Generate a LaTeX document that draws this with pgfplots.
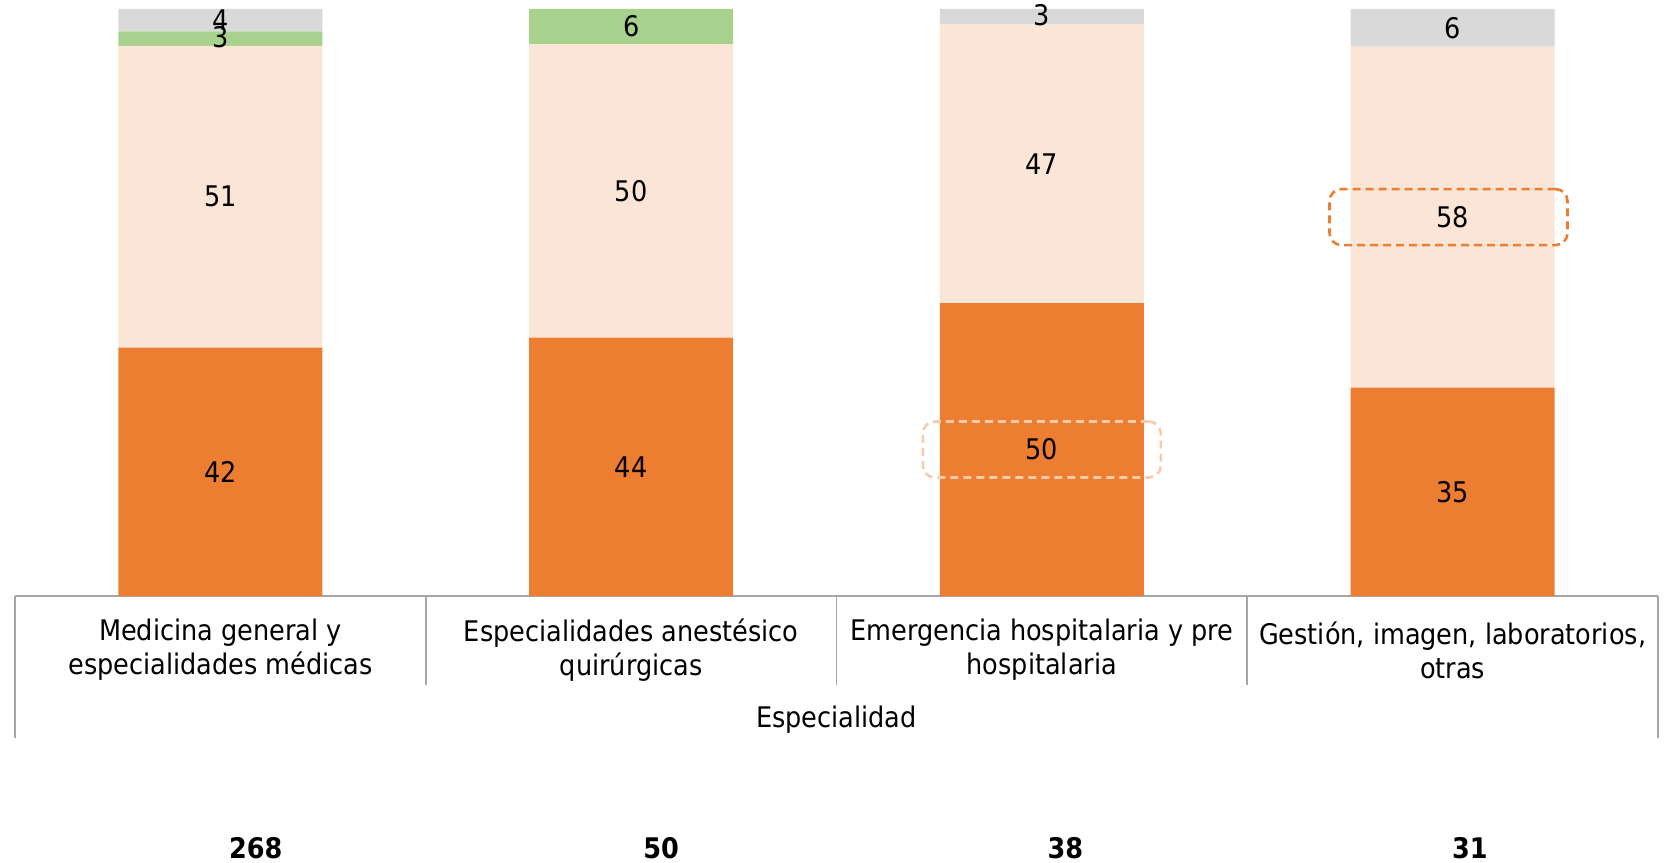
\documentclass[border=0pt]{standalone}
\usepackage{pgfplots}
\pgfplotsset{compat=1.18}
\usepackage{pgfplotstable}
\usepackage{fontspec}
\setmainfont{DejaVu Sans Condensed}
\definecolor{corange}{HTML}{ED7D31}
\definecolor{cpeach}{HTML}{FBE5D6}
\definecolor{cgreen}{HTML}{A9D18E}
\definecolor{cgray}{HTML}{D9D9D9}
\definecolor{cdash}{HTML}{F8CBAD}
\definecolor{cline}{HTML}{A6A6A6}
% segment heights (percent)
\pgfplotstableread{
x a b c d
0 42.3 51.4 2.5 3.8
1 44.0 50.0 6.0 0.0
2 49.9 47.5 0.0 2.6
3 35.5 58.1 0.0 6.4
}\data
% label positions (segment middles) and label texts
\pgfplotstableread{
x m l
0 21.15 42
1 22.00 44
2 24.95 50
3 17.75 35
0 68.00 51
1 69.00 50
2 73.65 47
3 64.55 58
0 95.20 3
1 97.00 6
0 98.10 4
2 99.00 3
3 96.80 6
}\labels
\begin{document}
\fontsize{14.2}{17.1}\selectfont
\begin{tikzpicture}
\useasboundingbox (-7.5pt,-133.5pt) rectangle (831.5pt,298pt);
\begin{axis}[
  at={(0,0)}, anchor=south west,
  scale only axis, width=821.5pt, height=293.5pt,
  ybar stacked, bar width=102pt,
  ymin=0, ymax=100, xmin=-0.5, xmax=3.5,
  hide y axis,
  axis x line*=bottom,
  x axis line style={-, draw=cline, line width=0.8pt},
  xtick={0,1,2,3},
  xticklabels={{Medicina general y\\especialidades médicas},{Especialidades anestésico\\quirúrgicas},{Emergencia hospitalaria y pre\\hospitalaria},{Gestión, imagen, laboratorios,\\otras}},
  x tick label style={align=center, anchor=center, yshift=-27pt, font=\fontsize{14.2}{17.1}\selectfont},
  major tick length=0pt,
  clip=false,
]
\addplot[fill=corange, draw=none] table[x=x, y=a] {\data};
\addplot[fill=cpeach, draw=none] table[x=x, y=b] {\data};
\addplot[fill=cgreen, draw=none] table[x=x, y=c] {\data};
\addplot[fill=cgray, draw=none] table[x=x, y=d] {\data};
% separators
\draw[cline, line width=0.8pt] (axis cs:-0.5,0) -- ([yshift=-71pt]axis cs:-0.5,0);
\draw[cline, line width=0.8pt] (axis cs:3.5,0) -- ([yshift=-71pt]axis cs:3.5,0);
\draw[cline, line width=0.8pt] (axis cs:0.5,0) -- ([yshift=-44.5pt]axis cs:0.5,0);
\draw[cline, line width=0.8pt] (axis cs:1.5,0) -- ([yshift=-44.5pt]axis cs:1.5,0);
\draw[cline, line width=0.8pt] (axis cs:2.5,0) -- ([yshift=-44.5pt]axis cs:2.5,0);
\node at ([yshift=-62pt]axis cs:1.5,0) {Especialidad};
\coordinate (boxA) at (axis cs:2.99,64.55);
\coordinate (boxB) at (axis cs:2,24.95);
% totals
\node[font=\bfseries, inner sep=0pt] at ([yshift=-126pt]axis cs:0.086,0) {268};
\node[font=\bfseries, inner sep=0pt] at ([yshift=-126pt]axis cs:1.073,0) {50};
\node[font=\bfseries, inner sep=0pt] at ([yshift=-126pt]axis cs:2.057,0) {38};
\node[font=\bfseries, inner sep=0pt] at ([yshift=-126pt]axis cs:3.042,0) {31};
\end{axis}
% overlay axis for the segment labels
\begin{axis}[
  at={(0,0)}, anchor=south west,
  scale only axis, width=821.5pt, height=293.5pt,
  ymin=0, ymax=100, xmin=-0.5, xmax=3.5,
  hide axis, clip=false,
]
\addplot[only marks, mark=none, point meta=explicit symbolic,
  nodes near coords, every node near coord/.style={anchor=center, black, inner sep=0pt}]
  table[x=x, y=m, meta=l] {\labels};
\end{axis}
% highlight boxes
\node[draw=corange, line width=1.3pt, dash pattern=on 4pt off 2.5pt, rounded corners=6pt, minimum width=119pt, minimum height=28pt] at (boxA) {};
\node[draw=cdash, line width=1.3pt, dash pattern=on 4pt off 2.5pt, rounded corners=6pt, minimum width=119pt, minimum height=28pt] at (boxB) {};
\end{tikzpicture}
\end{document}
